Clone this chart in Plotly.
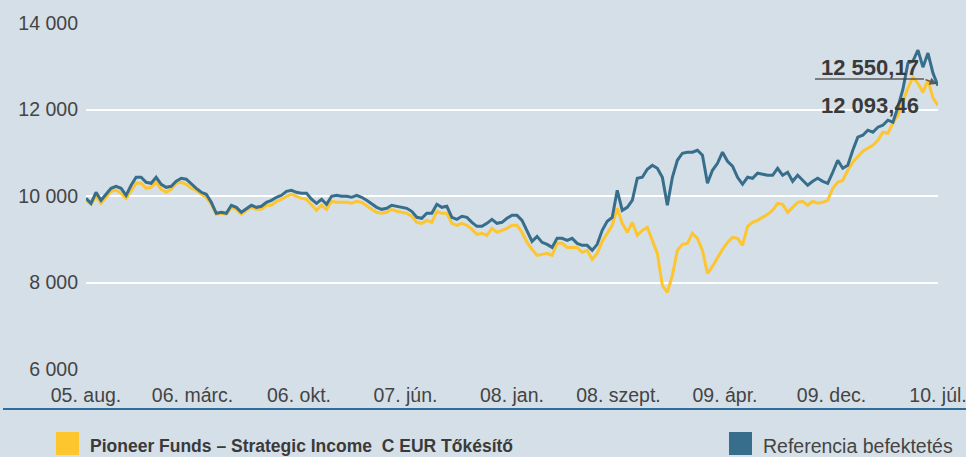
import plotly.graph_objects as go

# Reference index (blue) and fund (yellow) values
ref_values = [
    9947, 9831, 10086, 9900, 10039, 10178, 10225, 10178, 10016, 10248,
    10433, 10433, 10317, 10294, 10433, 10271, 10201, 10225, 10340, 10410,
    10387, 10271, 10178, 10086, 10039, 9854, 9600, 9623, 9600, 9785,
    9738, 9623, 9715, 9785, 9738, 9762, 9854, 9900, 9970, 10016,
    10109, 10132, 10086, 10063, 10063, 9924, 9831, 9924, 9808, 9993,
    10016, 9993, 9993, 9970, 10016, 9970, 9900, 9808, 9738, 9692,
    9715, 9785, 9762, 9738, 9715, 9646, 9507, 9484, 9600, 9600,
    9808, 9738, 9762, 9507, 9461, 9530, 9507, 9391, 9299, 9299,
    9368, 9461, 9368, 9391, 9484, 9553, 9553, 9437, 9206, 8951,
    9067, 8928, 8882, 8812, 9021, 9021, 8974, 9021, 8905, 8859,
    8859, 8743, 8882, 9206, 9414, 9507, 10132, 9669, 9738, 9900,
    10410, 10433, 10618, 10711, 10641, 10433, 9785, 10433, 10826, 10989,
    11012, 11012, 11058, 10942, 10294, 10595, 10757, 11012, 10803, 10688,
    10433, 10271, 10433, 10410, 10526, 10502, 10479, 10479, 10641, 10479,
    10549, 10340, 10479, 10363, 10248, 10340, 10410, 10340, 10294, 10549,
    10826, 10641, 10711, 11058, 11359, 11405, 11521, 11475, 11590, 11637,
    11752, 11706, 12053, 12470, 13072, 13118, 13373, 12979, 13304, 12840,
    12550.17,
]

fund_values = [
    9900, 9808, 9993, 9831, 9970, 10109, 10132, 10063, 9947, 10132,
    10294, 10294, 10178, 10201, 10317, 10155, 10086, 10155, 10294, 10317,
    10271, 10178, 10132, 10039, 9970, 9808, 9576, 9600, 9576, 9738,
    9692, 9576, 9669, 9738, 9692, 9692, 9785, 9785, 9877, 9924,
    9993, 10039, 9993, 9947, 9924, 9785, 9669, 9785, 9692, 9877,
    9854, 9854, 9854, 9831, 9877, 9854, 9762, 9692, 9623, 9600,
    9623, 9692, 9646, 9623, 9600, 9530, 9391, 9368, 9437, 9391,
    9646, 9600, 9600, 9368, 9322, 9368, 9322, 9229, 9113, 9137,
    9090, 9252, 9160, 9206, 9252, 9322, 9322, 9160, 8928, 8766,
    8627, 8650, 8674, 8627, 8905, 8905, 8812, 8812, 8812, 8697,
    8743, 8535, 8674, 8951, 9137, 9322, 9715, 9368, 9160, 9391,
    9090, 9206, 9275, 8974, 8674, 7933, 7771, 8164, 8743, 8882,
    8905, 9137, 9021, 8743, 8211, 8373, 8581, 8766, 8928, 9044,
    9021, 8859, 9299, 9391, 9437, 9507, 9576, 9669, 9831, 9808,
    9623, 9738, 9854, 9877, 9785, 9877, 9831, 9854, 9900, 10178,
    10317, 10363, 10595, 10780, 10896, 11035, 11104, 11174, 11289, 11475,
    11452, 11683, 11868, 12192, 12493, 12750, 12600, 12401, 12678, 12262,
    12093.46,
]

x_tick_labels = ["05. aug.", "06. márc.", "06. okt.", "07. jún.", "08. jan.",
                 "08. szept.", "09. ápr.", "09. dec.", "10. júl."]
y_tick_values = [6000, 8000, 10000, 12000, 14000]
y_tick_labels = ["6 000", "8 000", "10 000", "12 000", "14 000"]

fund_name = "Pioneer Funds – Strategic Income  C EUR Tőkésítő"
ref_name = "Referencia befektetés"
ref_last_label = "12 550,17"
fund_last_label = "12 093,46"

BG = "#d5dfe7"
BLUE = "#376e8b"
YELLOW = "#fdc52e"
TEXT = "#444444"
FONT = "Liberation Sans, Arial, sans-serif"

n = len(ref_values) - 1
idx = list(range(len(ref_values)))
tickvals = [n * k / (len(x_tick_labels) - 1) for k in range(len(x_tick_labels))]

fig = go.Figure()
fig.add_trace(go.Scatter(x=idx, y=fund_values, mode="lines",
                         line=dict(color=YELLOW, width=3), name=fund_name,
                         showlegend=False))
fig.add_trace(go.Scatter(x=idx, y=ref_values, mode="lines",
                         line=dict(color=BLUE, width=3), name=ref_name,
                         showlegend=False))

W, H = 966, 457
L, R, T, B = 86, 28, 23, 88
pw, ph = W - L - R, H - T - B


def px(xp):
    return (xp - L) / pw


def py(yp):
    return (H - B - yp) / ph


fig.update_layout(
    width=W, height=H,
    margin=dict(l=L, r=R, t=T, b=B, pad=0, autoexpand=False),
    paper_bgcolor=BG, plot_bgcolor=BG,
    font=dict(family=FONT, size=19.5, color=TEXT),
    xaxis=dict(range=[0, n], tickvals=tickvals, ticktext=x_tick_labels,
               showgrid=False, zeroline=False, showline=False,
               ticks="", ticklabelstandoff=12, ticklabeloverflow="allow",
               automargin=False, fixedrange=True),
    yaxis=dict(range=[6000, 14000], tickvals=y_tick_values,
               ticktext=y_tick_labels, showgrid=True, gridcolor="white",
               gridwidth=2, zeroline=False, showline=False, ticks="",
               ticklabelstandoff=7, automargin=False, fixedrange=True),
    showlegend=False,
)

shapes = [
    # bottom separator rule
    dict(type="line", xref="paper", yref="paper", x0=px(3), x1=px(966),
         y0=py(409), y1=py(409), line=dict(color="#2f6d9c", width=2)),
    # legend squares
    dict(type="rect", xref="paper", yref="paper", x0=px(56), x1=px(79),
         y0=py(455), y1=py(432), fillcolor=YELLOW, line=dict(width=0)),
    dict(type="rect", xref="paper", yref="paper", x0=px(729), x1=px(752),
         y0=py(455), y1=py(432), fillcolor=BLUE, line=dict(width=0)),
    # annotation rule
    dict(type="line", xref="paper", yref="paper", x0=px(815), x1=px(924),
         y0=py(79), y1=py(79), line=dict(color="rgba(60,60,60,0.8)", width=1.5)),
]
fig.update_layout(shapes=shapes)

annotations = [
    dict(text=fund_name, xref="paper", yref="paper", x=px(88), y=py(446),
         xanchor="left", yanchor="middle", showarrow=False,
         font=dict(family=FONT, size=17.5, color="#3a3a3a", weight="bold")),
    dict(text=ref_name, xref="paper", yref="paper", x=px(761), y=py(446),
         xanchor="left", yanchor="middle", showarrow=False,
         font=dict(family=FONT, size=19.5, color=TEXT)),
    dict(text="<b>" + ref_last_label + "</b>", xref="paper", yref="paper",
         x=px(870), y=py(67), xanchor="center", yanchor="middle", showarrow=False,
         font=dict(family=FONT, size=22, color="#3a3a3a")),
    dict(text="<b>" + fund_last_label + "</b>", xref="paper", yref="paper",
         x=px(870), y=py(106), xanchor="center", yanchor="middle", showarrow=False,
         font=dict(family=FONT, size=22, color="#3a3a3a")),
    dict(text="", xref="paper", yref="paper", x=px(937), y=py(84),
         ax=-13, ay=-5, axref="pixel", ayref="pixel",
         showarrow=True, arrowhead=2, arrowsize=1, arrowwidth=1.5,
         arrowcolor="rgba(60,60,60,0.8)"),
]
fig.update_layout(annotations=annotations)

fig.write_html("out.html",
               config={"displayModeBar": False},
               post_script="document.body.style.margin='0';"
                           "document.body.style.overflow='hidden';")
